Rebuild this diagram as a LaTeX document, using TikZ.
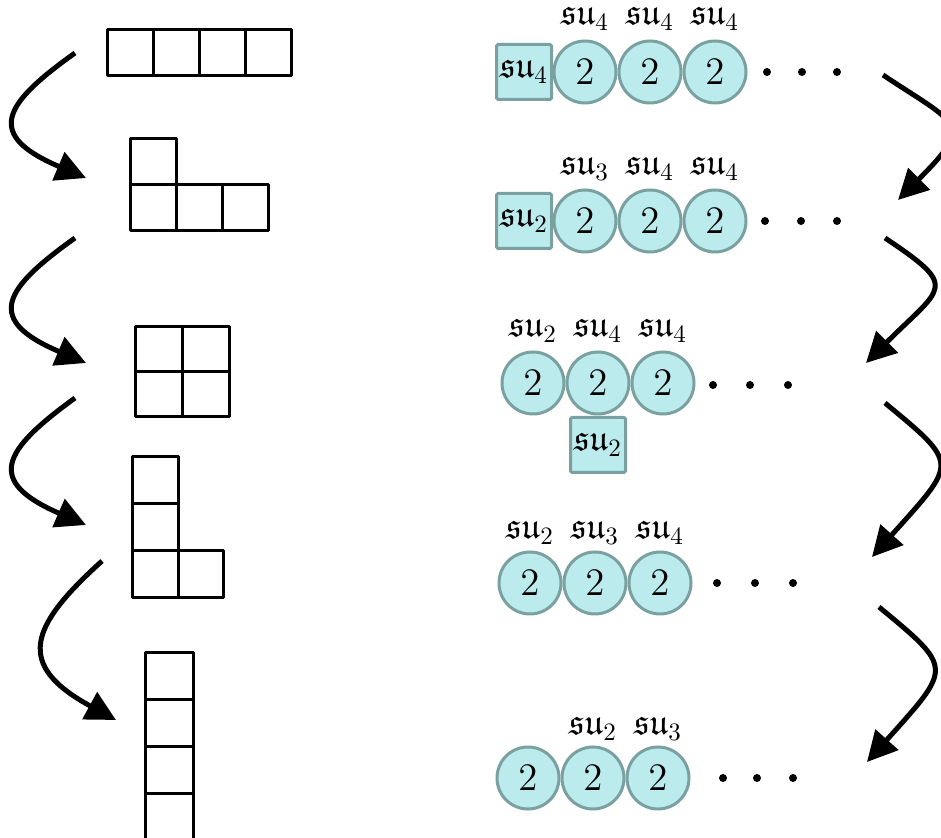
\documentclass[tikz,border=0pt]{standalone}
\usepackage{amssymb}
\usetikzlibrary{arrows.meta}
\definecolor{nodefill}{RGB}{188,235,238}
\definecolor{nodeedge}{RGB}{122,160,160}
\tikzset{
  cell/.style={draw=black,line width=1.2pt,line join=round},
  gauge/.style={circle,draw=nodeedge,fill=nodefill,line width=1.2pt,minimum size=24.8pt,inner sep=0pt,font=\fontsize{14.4}{17}\selectfont},
  flavor/.style={rectangle,rounded corners=0.6pt,draw=nodeedge,fill=nodefill,line width=1.2pt,minimum size=22pt,inner sep=0pt,font=\fontsize{14.4}{17}\selectfont},
  alg/.style={inner sep=0pt,font=\fontsize{14.4}{17}\selectfont},
  dot/.style={circle,fill=black,minimum size=3.2pt,inner sep=0pt},
  flow/.style={line width=2pt,-{Triangle[length=12pt,width=12pt]}}
}
\newcommand{\su}[1]{$\mathfrak{su}_{#1}$}
\newcommand{\two}{\scalebox{1.08}{$2$}}
\begin{document}
\begin{tikzpicture}[x=0.4pt,y=-0.4pt]
\useasboundingbox (0,0) rectangle (941,838);

% ---------- Young diagrams ----------
% [4]
\foreach \i in {0,...,3} \draw[cell] (107+46*\i,30) rectangle +(46,46);
% [3,1]
\draw[cell] (130,139) rectangle +(46,46);
\foreach \i in {0,...,2} \draw[cell] (130+46*\i,185) rectangle +(46,46);
% [2,2]
\foreach \i in {0,1} \foreach \j in {0,1} \draw[cell] (135+47*\i,327+45*\j) rectangle +(47,45);
% [2,1,1]
\foreach \j in {0,...,2} \draw[cell] (132,457+47*\j) rectangle +(46,47);
\draw[cell] (178,551) rectangle +(45,47);
% [1,1,1,1]
\foreach \j in {0,...,3} \draw[cell] (145,653+47*\j) rectangle +(48,47);

% ---------- left arrows ----------
\coordinate (ls1) at (75,53);   \coordinate (le1) at (86,178);
\coordinate (ls2) at (75,238);  \coordinate (le2) at (86,363);
\coordinate (ls3) at (75,398);  \coordinate (le3) at (86,525);
\coordinate (ls4) at (102,561); \coordinate (le4) at (116,720);
\draw[flow] (ls1) .. controls +(-73,52) and +(-101,-43) .. (le1);
\draw[flow] (ls2) .. controls +(-73,52) and +(-101,-43) .. (le2);
\draw[flow] (ls3) .. controls +(-73,53) and +(-101,-44) .. (le3);
\draw[flow] (ls4) .. controls +(-73,66) and +(-101,-55) .. (le4);

% ---------- quiver 1 ----------
\node[flavor] (f1) at (524,72) {\su4};
\node[gauge] (a1) at (585,72) {\two};
\node[gauge] (b1) at (650,72) {\two};
\node[gauge] (c1) at (715,72) {\two};
\node[alg] at (585,19) {\su4};
\node[alg] at (650,19) {\su4};
\node[alg] at (715,19) {\su4};
\node[dot] (d11) at (767,72) {};
\node[dot] (d12) at (802,72) {};
\node[dot] (d13) at (837,72) {};

% ---------- quiver 2 ----------
\node[flavor] (f2) at (524,221) {\su2};
\node[gauge] (a2) at (585,221) {\two};
\node[gauge] (b2) at (650,221) {\two};
\node[gauge] (c2) at (715,221) {\two};
\node[alg] at (585,169) {\su3};
\node[alg] at (650,169) {\su4};
\node[alg] at (715,169) {\su4};
\node[dot] (d21) at (765,221) {};
\node[dot] (d22) at (801,221) {};
\node[dot] (d23) at (837,221) {};

% ---------- quiver 3 ----------
\node[gauge] (a3) at (533,383) {\two};
\node[gauge] (b3) at (598,383) {\two};
\node[gauge] (c3) at (663,383) {\two};
\node[flavor] (f3) at (598,445) {\su2};
\node[alg] at (533,331) {\su2};
\node[alg] at (598,331) {\su4};
\node[alg] at (663,331) {\su4};
\node[dot] (d31) at (713,385) {};
\node[dot] (d32) at (750,385) {};
\node[dot] (d33) at (788,385) {};

% ---------- quiver 4 ----------
\node[gauge] (a4) at (530,583) {\two};
\node[gauge] (b4) at (595,583) {\two};
\node[gauge] (c4) at (660,583) {\two};
\node[alg] at (530,533) {\su2};
\node[alg] at (595,533) {\su3};
\node[alg] at (660,533) {\su4};
\node[dot] (d41) at (717,583) {};
\node[dot] (d42) at (755,583) {};
\node[dot] (d43) at (793,583) {};

% ---------- quiver 5 ----------
\node[gauge] (a5) at (528,778) {\two};
\node[gauge] (b5) at (593,778) {\two};
\node[gauge] (c5) at (658,778) {\two};
\node[alg] at (593,729) {\su2};
\node[alg] at (658,729) {\su3};
\node[dot] (d51) at (723,778) {};
\node[dot] (d52) at (757,778) {};
\node[dot] (d53) at (793,778) {};

% ---------- right arrows ----------
\coordinate (rs1) at (883,75);  \coordinate (re1) at (898,200);
\coordinate (rs2) at (885,238); \coordinate (re2) at (866,363);
\coordinate (rs3) at (885,403); \coordinate (re3) at (872,557);
\coordinate (rs4) at (879,607); \coordinate (re4) at (867,762);
\draw[flow] (rs1) .. controls +(75,50) and +(77,-77) .. (re1);
\draw[flow] (rs2) .. controls +(75,50) and +(77,-77) .. (re2);
\draw[flow] (rs3) .. controls +(75,62) and +(85,-95) .. (re3);
\draw[flow] (rs4) .. controls +(75,62) and +(85,-95) .. (re4);
\end{tikzpicture}
\end{document}
